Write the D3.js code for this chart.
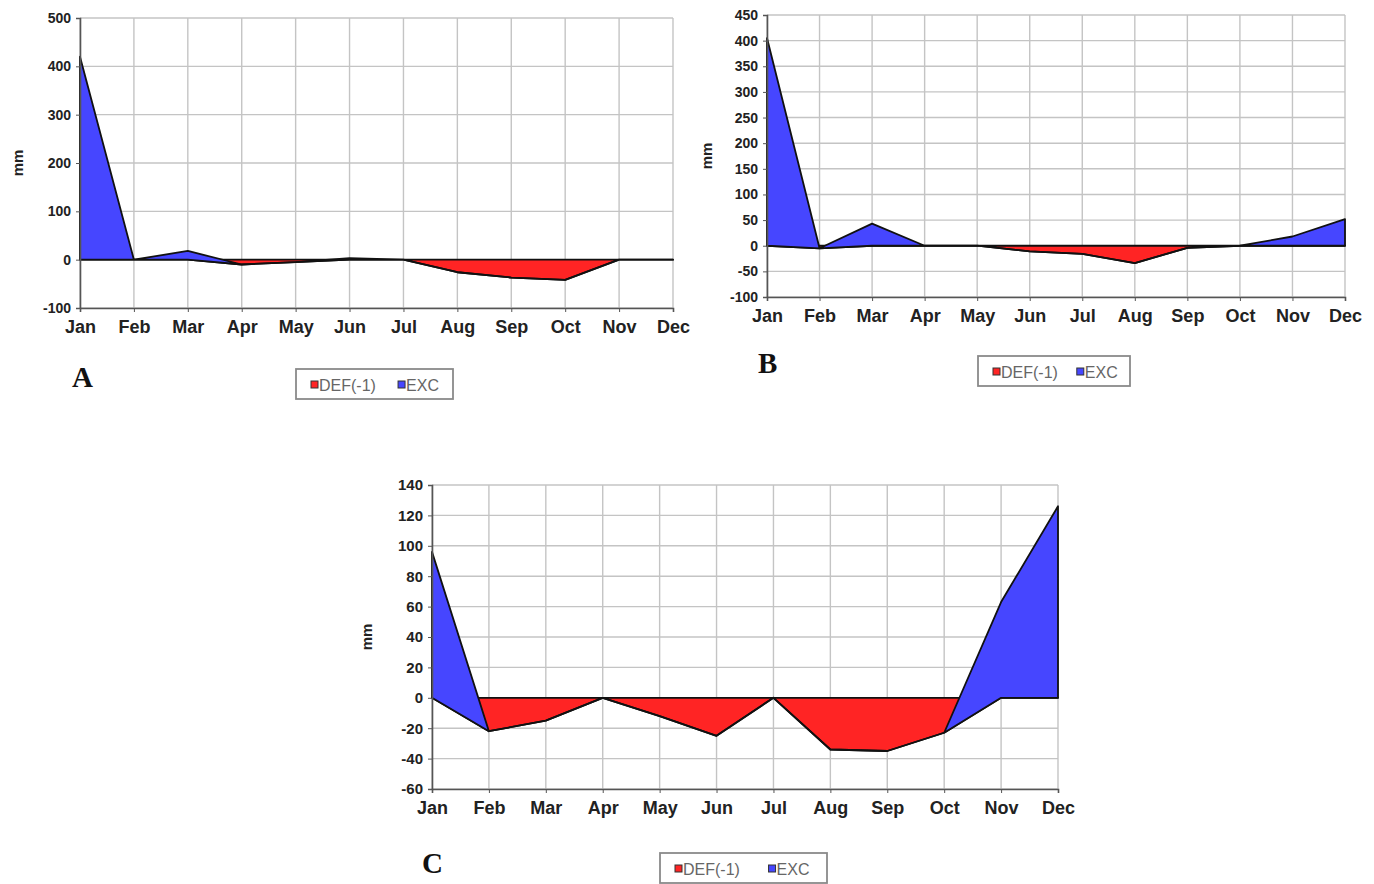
<!DOCTYPE html>
<html>
<head>
<meta charset="utf-8">
<script src="https://cdn.jsdelivr.net/npm/d3@7"></script>
<style>
  body { margin: 0; background: #fff; }
  svg { display: block; }
  .tick text { font-family: "Liberation Sans", Arial, sans-serif; font-weight: bold; fill: #222; }
</style>
</head>
<body>
<svg id="chart" width="1374" height="884"></svg>
<script>
// months on the category axis
const months = ["Jan", "Feb", "Mar", "Apr", "May", "Jun", "Jul", "Aug", "Sep", "Oct", "Nov", "Dec"];

// panel A
const defA = [0, 0, 0, -10, -5, 0, 0, -26, -37, -42, 0, 0];
const excA = [420, 0, 18, 0, 0, 3, 0, 0, 0, 0, 0, 0];
const ticksA = [-100, 0, 100, 200, 300, 400, 500];

// panel B
const defB = [0, -5, 0, 0, 0, -11, -16, -34, -4, 0, 0, 0];
const excB = [405, 0, 43, 0, 0, 0, 0, 0, 0, 0, 18, 52];
const ticksB = [-100, -50, 0, 50, 100, 150, 200, 250, 300, 350, 400, 450];

// panel C
const defC = [0, -22, -15, 0, -12, -25, 0, -34, -35, -23, 0, 0];
const excC = [96, 0, 0, 0, 0, 0, 0, 0, 0, 0, 63, 126];
const ticksC = [-60, -40, -20, 0, 20, 40, 60, 80, 100, 120, 140];

const legendNames = ["DEF(-1)", "EXC"];
const colDef = "#ff2424";
const colExc = "#4646ff";

const svg = d3.select("#chart");

function drawPanel(p) {
  const g = svg.append("g");

  const x = d3.scalePoint().domain(months).range([p.left, p.right]);
  const y = d3.scaleLinear().domain([p.ticks[0], p.ticks[p.ticks.length - 1]]).range([p.bottom, p.top]);

  // grid
  g.append("g")
    .selectAll("line")
    .data(p.ticks)
    .enter().append("line")
    .attr("x1", p.left).attr("x2", p.right)
    .attr("y1", d => y(d)).attr("y2", d => y(d))
    .attr("stroke", "#c4c4c4").attr("stroke-width", 1.4);
  g.append("g")
    .selectAll("line")
    .data(months)
    .enter().append("line")
    .attr("x1", d => x(d)).attr("x2", d => x(d))
    .attr("y1", p.top).attr("y2", p.bottom)
    .attr("stroke", "#c4c4c4").attr("stroke-width", 1.4);

  // stacked areas: DEF from 0, EXC on top of DEF
  const rows = months.map((m, i) => ({ m: m, d: p.def[i], e: p.exc[i] }));
  const areaDef = d3.area().x(r => x(r.m)).y0(() => y(0)).y1(r => y(r.d));
  const areaExc = d3.area().x(r => x(r.m)).y0(r => y(r.d)).y1(r => y(r.d + r.e));

  g.append("path").datum(rows)
    .attr("d", areaDef)
    .attr("fill", colDef).attr("stroke", "#111").attr("stroke-width", 1.8)
    .attr("stroke-linejoin", "round");
  g.append("path").datum(rows)
    .attr("d", areaExc)
    .attr("fill", colExc).attr("stroke", "#111").attr("stroke-width", 1.8)
    .attr("stroke-linejoin", "round");

  // axes
  const yAxis = g.append("g")
    .attr("transform", "translate(" + p.left + ",0)")
    .call(d3.axisLeft(y).tickValues(p.ticks).tickSize(4).tickPadding(5).tickFormat(d => String(d)));
  yAxis.selectAll("text").style("font-size", p.yFont + "px");
  yAxis.select(".domain").attr("stroke", "#555").attr("stroke-width", 1.6);
  yAxis.selectAll(".tick line").attr("stroke", "#555");

  const xAxis = g.append("g")
    .attr("transform", "translate(0," + p.bottom + ")")
    .call(d3.axisBottom(x).tickSize(4).tickPadding(8));
  xAxis.selectAll("text").style("font-size", "18px");
  xAxis.select(".domain").attr("stroke", "#555").attr("stroke-width", 1.6);
  xAxis.selectAll(".tick line").attr("stroke", "#555");

  // y title
  g.append("text")
    .attr("transform", "translate(" + p.mmX + "," + ((p.top + p.bottom) / 2) + ") rotate(-90)")
    .attr("text-anchor", "middle")
    .attr("dy", "0.35em")
    .style("font-family", "Liberation Sans, Arial, sans-serif")
    .style("font-weight", "bold").style("font-size", "15px").style("fill", "#222")
    .text("mm");

  // panel letter
  g.append("text")
    .attr("x", p.letterX).attr("y", p.letterY)
    .style("font-family", "Liberation Serif, 'Times New Roman', serif")
    .style("font-weight", "bold").style("font-size", "29px").style("fill", "#111")
    .text(p.id);

  // legend
  const lg = g.append("g").attr("transform", "translate(" + p.legX + "," + p.legY + ")");
  lg.append("rect").attr("width", p.legW).attr("height", 30)
    .attr("fill", "#fff").attr("stroke", "#8a8a8a").attr("stroke-width", 1.8);
  const items = [{ n: legendNames[0], c: colDef, dx: 15 }, { n: legendNames[1], c: colExc, dx: p.legW * 0.65 }];
  items.forEach(it => {
    lg.append("rect").attr("x", it.dx).attr("y", 12).attr("width", 7).attr("height", 7)
      .attr("fill", it.c).attr("stroke", "#333").attr("stroke-width", 1);
    lg.append("text").attr("x", it.dx + 8).attr("y", 21.5)
      .style("font-family", "Liberation Sans, Arial, sans-serif")
      .style("font-size", "16px").style("fill", "#666")
      .text(it.n);
  });
}

drawPanel({ id: "A", def: defA, exc: excA, ticks: ticksA, left: 80, right: 673, top: 18, bottom: 308,
  yFont: 14, mmX: 18, letterX: 72, letterY: 387, legX: 296, legY: 369, legW: 157 });
drawPanel({ id: "B", def: defB, exc: excB, ticks: ticksB, left: 767, right: 1345, top: 15, bottom: 297,
  yFont: 14, mmX: 707, letterX: 758, letterY: 373, legX: 978, legY: 356, legW: 152 });
drawPanel({ id: "C", def: defC, exc: excC, ticks: ticksC, left: 432, right: 1058, top: 485, bottom: 789,
  yFont: 15, mmX: 367, letterX: 422, letterY: 873, legX: 660, legY: 853, legW: 167 });
</script>
</body>
</html>
